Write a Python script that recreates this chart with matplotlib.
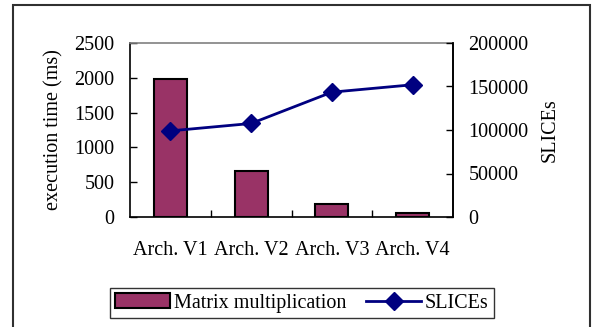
import matplotlib
matplotlib.use("Agg")
import matplotlib.pyplot as plt
from matplotlib.patches import Rectangle
import numpy as np

categories = ["Arch. V1", "Arch. V2", "Arch. V3", "Arch. V4"]
exec_time_ms = [1980, 655, 185, 60]
slices = [99000, 107500, 143500, 152000]

BAR_COLOR = "#993366"
LINE_COLOR = "#000080"

plt.rcParams["font.family"] = ["Liberation Serif", "DejaVu Serif"]
plt.rcParams["font.size"] = 14.5

fig = plt.figure(figsize=(5.92, 3.27), dpi=100)
ax = fig.add_axes([130 / 592, 1 - 217 / 327, 323 / 592, 174 / 327])

x = np.arange(len(categories))
bars = ax.bar(x, exec_time_ms, 0.41, color=BAR_COLOR, edgecolor="black",
              linewidth=1.5, label="Matrix multiplication", zorder=2)
ax.set_xlim(-0.5, 3.5)
ax.set_ylim(0, 2500)
ax.set_yticks([0, 500, 1000, 1500, 2000, 2500])
ax.set_xticks(x)
ax.set_xticklabels(categories)
ax.set_xticks([0.5, 1.5, 2.5], minor=True)
ax.tick_params(axis="x", which="major", length=0, pad=17)
ax.tick_params(axis="x", which="minor", length=5, direction="in", width=1)
ax.tick_params(axis="y", direction="in", length=5, width=1, pad=11)
ax.set_ylabel("execution time (ms)", labelpad=8)
for side in ("left", "bottom", "right"):
    ax.spines[side].set_color("black")
    ax.spines[side].set_linewidth(1.2)
ax.spines["top"].set_color("#808080")
ax.spines["top"].set_linewidth(1.2)

ax2 = ax.twinx()
line, = ax2.plot(x, slices, color=LINE_COLOR, linewidth=2, marker="D",
                 markersize=9, label="SLICEs", zorder=3)
ax2.set_ylim(0, 200000)
ax2.set_yticks([0, 50000, 100000, 150000, 200000])
ax2.tick_params(axis="y", direction="in", length=5, width=1, pad=11)
ax2.set_ylabel("SLICEs", labelpad=9)
ax2.spines["right"].set_color("black")
ax2.spines["right"].set_linewidth(1.2)
ax2.spines["top"].set_visible(False)
ax2.spines["left"].set_visible(False)
ax2.spines["bottom"].set_visible(False)

leg = fig.legend([bars, line], ["Matrix multiplication", "SLICEs"],
                 loc="center", bbox_to_anchor=(302 / 592, 1 - 303 / 327),
                 ncol=2, frameon=True, fancybox=False, borderpad=0.25,
                 handlelength=2.7, handletextpad=0.2, columnspacing=1.0,
                 borderaxespad=0)
leg.get_frame().set_edgecolor("black")
leg.get_frame().set_linewidth(1.0)

fig.patches.append(Rectangle((13 / 592, -0.02), 577 / 592, 1 - 5 / 327 + 0.02,
                             transform=fig.transFigure, fill=False,
                             edgecolor="#303030", linewidth=1.5))

fig.savefig("out.png", dpi=100)
